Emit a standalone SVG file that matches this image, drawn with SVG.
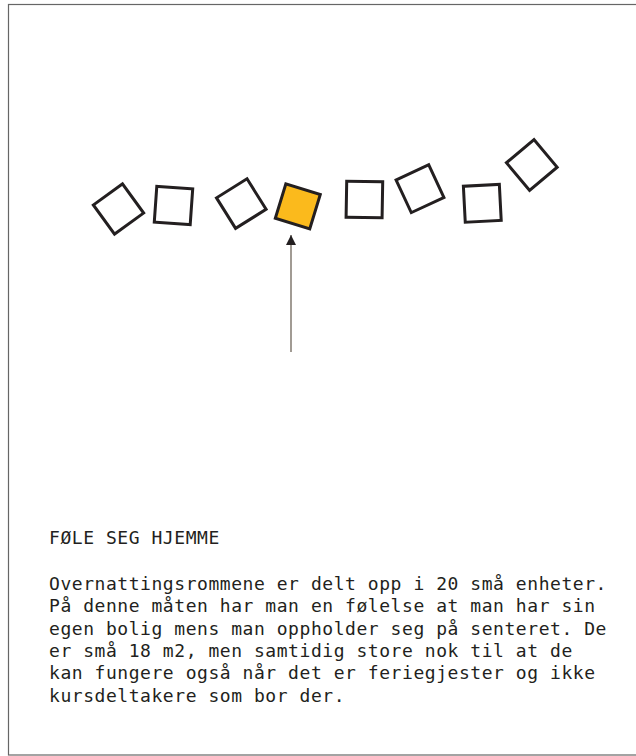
<svg xmlns="http://www.w3.org/2000/svg" width="636" height="756" viewBox="0 0 636 756">
<defs>
<style>
.room{fill:#ffffff;stroke:#231f20;stroke-width:3}
.room.active{fill:#fbba1c}
.txt{font-family:"DejaVu Sans Mono","Liberation Mono",monospace;font-size:18px;letter-spacing:0.55px;fill:#231f20}
</style>
<marker id="ah" viewBox="0 0 10 10" refX="10" refY="5" markerWidth="10" markerHeight="10" markerUnits="userSpaceOnUse" orient="auto">
<path d="M0,0 L10,5 L0,10 Z" fill="#231f20"/>
</marker>
</defs>
<rect x="0" y="0" width="636" height="756" fill="#ffffff"/>
<rect x="8.5" y="4.5" width="640" height="750.5" fill="none" stroke="#666666" stroke-width="1.2"/>
<g id="room1"><rect class="room" x="-18" y="-18" width="36" height="36" transform="translate(118.5,209) rotate(-36)"/></g>
<g id="room2"><rect class="room" x="-18" y="-18" width="36" height="36" transform="translate(173.5,205.5) rotate(4)"/></g>
<g id="room3"><rect class="room" x="-18" y="-18" width="36" height="36" transform="translate(241.3,203.6) rotate(-32)"/></g>
<g id="room4"><rect class="room active" x="-18" y="-18" width="36" height="36" transform="translate(297.8,206.4) rotate(17)"/></g>
<g id="room5"><rect class="room" x="-18" y="-18" width="36" height="36" transform="translate(364.4,199.5) rotate(1)"/></g>
<g id="room6"><rect class="room" x="-18" y="-18" width="36" height="36" transform="translate(420,188.7) rotate(-25)"/></g>
<g id="room7"><rect class="room" x="-18" y="-18" width="36" height="36" transform="translate(482.3,203.3) rotate(-3)"/></g>
<g id="room8"><rect class="room" x="-18" y="-18" width="36" height="36" transform="translate(531.8,165) rotate(-40)"/></g>
<g id="connectors">
<line x1="291" y1="352" x2="291" y2="235" stroke="#8a8279" stroke-width="1.6" marker-end="url(#ah)"/>
</g>
<g id="caption">
<text class="txt" x="49" y="544">FØLE SEG HJEMME</text>
<text class="txt" x="49" y="590">Overnattingsrommene er delt opp i 20 små enheter.</text>
<text class="txt" x="49" y="612.3">På denne måten har man en følelse at man har sin</text>
<text class="txt" x="49" y="634.6">egen bolig mens man oppholder seg på senteret. De</text>
<text class="txt" x="49" y="656.9">er små 18 m2, men samtidig store nok til at de</text>
<text class="txt" x="49" y="679.2">kan fungere også når det er feriegjester og ikke</text>
<text class="txt" x="49" y="701.5">kursdeltakere som bor der.</text>
</g>
</svg>
